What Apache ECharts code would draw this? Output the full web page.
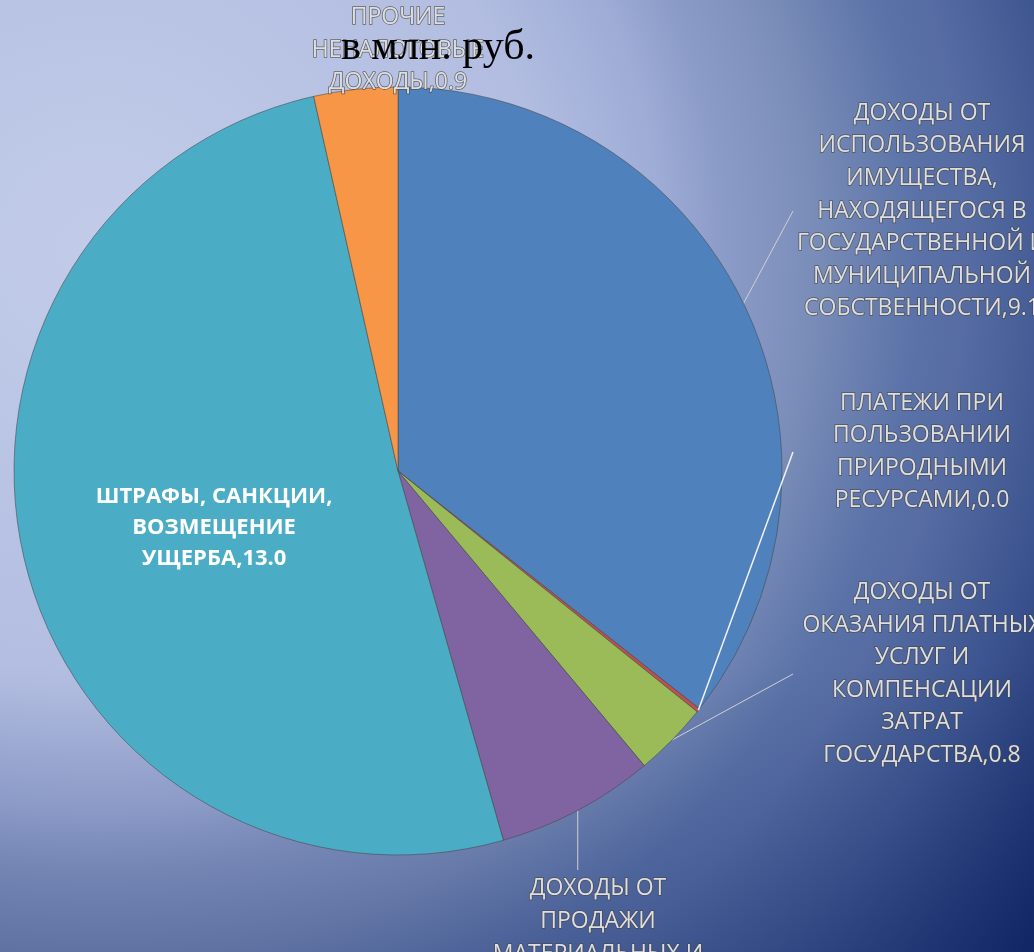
<!DOCTYPE html>
<html>
<head>
<meta charset="utf-8">
<script src="https://cdn.jsdelivr.net/npm/echarts@6/dist/echarts.min.js"></script>
<style>
    html, body { margin: 0; padding: 0; }
    #chart { width: 1034px; height: 952px; }
</style>
</head>
<body>
<div id="chart"></div>
<script>
// slice names (line breaks as in the picture) and values, clockwise from 12 o'clock
const names = [
    "ДОХОДЫ ОТ\nИСПОЛЬЗОВАНИЯ\nИМУЩЕСТВА,\nНАХОДЯЩЕГОСЯ В\nГОСУДАРСТВЕННОЙ И\nМУНИЦИПАЛЬНОЙ\nСОБСТВЕННОСТИ",
    "ПЛАТЕЖИ ПРИ\nПОЛЬЗОВАНИИ\nПРИРОДНЫМИ\nРЕСУРСАМИ",
    "ДОХОДЫ ОТ\nОКАЗАНИЯ ПЛАТНЫХ\nУСЛУГ И\nКОМПЕНСАЦИИ\nЗАТРАТ\nГОСУДАРСТВА",
    "ДОХОДЫ ОТ\nПРОДАЖИ\nМАТЕРИАЛЬНЫХ И\nНЕМАТЕРИАЛЬНЫХ\nАКТИВОВ",
    "ШТРАФЫ, САНКЦИИ,\nВОЗМЕЩЕНИЕ\nУЩЕРБА",
    "ПРОЧИЕ\nНЕНАЛОГОВЫЕ\nДОХОДЫ",
];
const values = [9.1, 0.04, 0.8, 1.7, 13.0, 0.9];
const colors = ["#4f81bd", "#c0504d", "#9bbb59", "#8064a2", "#4bacc6", "#f79646"];

// where each outside label sits (centre x, centre y); null = default
const labelSpots = [
    [922, 211],
    [922, 452],
    [922, 674],
    [598, 954],
    null,
    [398, 50],
];

const center = [398, 471];
const radius = 384;

// point on the rim at the middle of slice i (for the leader that crosses the blue slice)
const rimPoint = (i) => {
    const total = values.reduce((a, b) => a + b, 0);
    const before = values.slice(0, i).reduce((a, b) => a + b, 0);
    const ang = ((before + values[i] / 2) / total) * Math.PI * 2;
    return [center[0] + radius * Math.sin(ang), center[1] - radius * Math.cos(ang)];
};

const chart = echarts.init(document.getElementById("chart"));

const data = names.map((n, i) => {
    const item = {
        name: n,
        value: values[i],
        itemStyle: { color: colors[i] },
    };
    if (i === 1 || i === 5) {
        item.labelLine = { show: false };
    }
    if (i === 4) {
        item.label = {
            position: "inside",
            color: "#ffffff",
            fontWeight: "bold",
            fontSize: 22,
            lineHeight: 31,
            textBorderWidth: 0,
        };
        item.labelLine = { show: false };
    }
    return item;
});

chart.setOption({
    backgroundColor: {
        type: "radial",
        x: 100,
        y: 250,
        r: 1170,
        global: true,
        colorStops: [
            { offset: 0, color: "#c2cce9" },
            { offset: 0.38, color: "#b2bde1" },
            { offset: 0.48, color: "#9eacd6" },
            { offset: 0.53, color: "#8c9cc8" },
            { offset: 0.61, color: "#7a8db8" },
            { offset: 0.7, color: "#5a72a8" },
            { offset: 0.74, color: "#566ca3" },
            { offset: 0.83, color: "#3d5590" },
            { offset: 1, color: "#0a2060" },
        ],
    },
    graphic: [
        // darkens the lower part of the slide a little
        {
            type: "rect",
            z: -10,
            silent: true,
            shape: { x: 0, y: 0, width: 1034, height: 952 },
            style: {
                fill: {
                    type: "linear",
                    x: 0,
                    y: 0,
                    x2: 0,
                    y2: 1,
                    colorStops: [
                        { offset: 0, color: "rgba(30,50,110,0)" },
                        { offset: 0.7, color: "rgba(30,50,110,0)" },
                        { offset: 1, color: "rgba(30,50,110,0.3)" },
                    ],
                },
            },
        },
        // leader of the tiny red slice, drawn over the blue one
        {
            type: "polyline",
            z: 100,
            silent: true,
            shape: { points: [rimPoint(1), [793, labelSpots[1][1]]] },
            style: { stroke: "#f2f2f2", lineWidth: 1.5, fill: null },
        },
    ],
    title: {
        text: "в млн. руб.",
        left: 336,
        top: 22,
        textStyle: {
            fontFamily: "Liberation Serif",
            fontWeight: "normal",
            fontSize: 42,
            color: "#000000",
        },
    },
    series: [
        {
            type: "pie",
            center: center,
            radius: radius,
            startAngle: 90,
            clockwise: true,
            avoidLabelOverlap: false,
            animation: false,
            itemStyle: {
                borderColor: "rgba(70,70,70,0.55)",
                borderWidth: 1,
            },
            label: {
                show: true,
                position: "outside",
                fontFamily: "Open Sans",
                fontSize: 23,
                lineHeight: 32.6,
                color: "#dedede",
                textBorderColor: "rgba(70,70,70,0.75)",
                textBorderWidth: 1.5,
                align: "center",
                width: 330,
                overflow: "none",
                formatter: (p) => `${p.name},${p.value.toFixed(1)}`,
            },
            labelLine: {
                show: true,
                lineStyle: { color: "#d0d0d0", width: 1 },
            },
            labelLayout: (params) => {
                if (params.dataIndex === 4) {
                    return { dx: 5, dy: 9 };
                }
                const spot = labelSpots[params.dataIndex];
                if (!spot) return {};
                const p0 = params.labelLinePoints
                    ? params.labelLinePoints[0]
                    : null;
                let pts;
                if (p0 && (params.dataIndex === 0 || params.dataIndex === 2)) {
                    pts = [p0, [793, spot[1]], [793, spot[1]]];
                } else if (p0 && params.dataIndex === 3) {
                    pts = [p0, [p0[0], 870], [p0[0], 870]];
                }
                const out = {
                    x: spot[0],
                    y: spot[1],
                    align: "center",
                    verticalAlign: "middle",
                };
                if (pts) out.labelLinePoints = pts;
                return out;
            },
            data: data,
        },
    ],
});
</script>
</body>
</html>
